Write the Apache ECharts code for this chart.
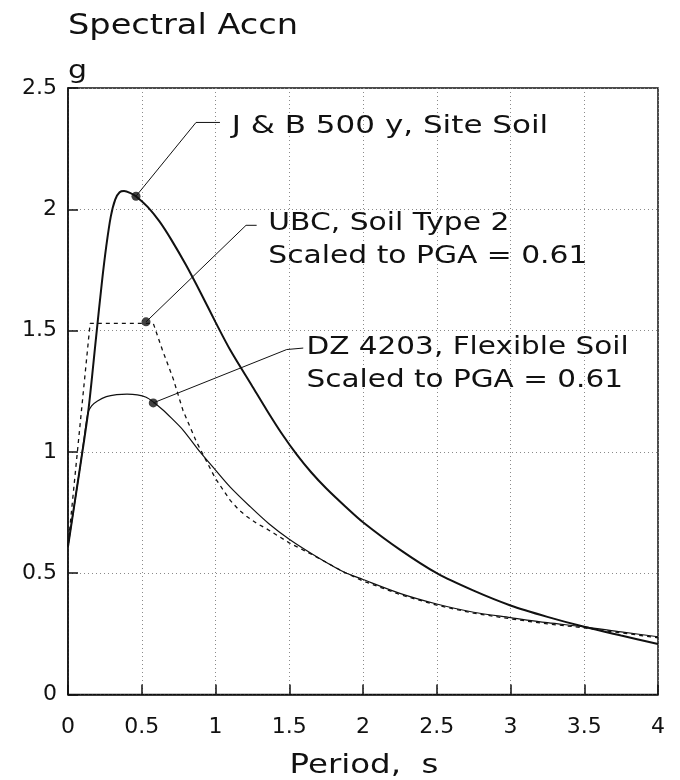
<!DOCTYPE html>
<html><head><meta charset="utf-8">
<script src="https://cdn.jsdelivr.net/npm/echarts@6/dist/echarts.min.js"></script>
<style>html,body{margin:0;padding:0;background:#fff}#c{width:680px;height:780px}</style>
</head><body><div id="c"></div>
<script>
// ---- data ----
const xTickValues = [0, 0.5, 1, 1.5, 2, 2.5, 3, 3.5, 4];
const yTickValues = [0, 0.5, 1, 1.5, 2, 2.5];

const jbPeriod = [0,0.05,0.1,0.14,0.19,0.23,0.26,0.29,0.32,0.35,0.38,0.42,0.46,0.54,0.62,0.7,0.8,0.9,1.0,1.1,1.25,1.35,1.45,1.55,1.65,1.75,1.88,2.0,2.25,2.5,2.75,3.0,3.25,3.5,3.75,4.0];
const jbAccn   = [0.61,0.81,1.01,1.18,1.47,1.70,1.85,1.97,2.04,2.07,2.075,2.068,2.054,2.01,1.95,1.875,1.77,1.655,1.535,1.42,1.27,1.17,1.075,0.99,0.915,0.85,0.775,0.71,0.597,0.50,0.428,0.367,0.32,0.279,0.243,0.208];

const dzPeriod = [0,0.04,0.08,0.11,0.135,0.16,0.2,0.26,0.33,0.4,0.47,0.53,0.58,0.64,0.7,0.78,0.895,1.0,1.1,1.234,1.36,1.5,1.686,1.867,2.0,2.25,2.5,2.75,3.0,3.25,3.5,3.75,4.0];
const dzAccn   = [0.61,0.77,0.93,1.06,1.16,1.19,1.21,1.228,1.236,1.238,1.235,1.225,1.205,1.175,1.14,1.09,1.0,0.925,0.855,0.775,0.705,0.64,0.568,0.506,0.474,0.417,0.373,0.339,0.317,0.296,0.279,0.258,0.238];

const ubcPeriod = [0,0.15,0.578,0.64,0.714,0.78,0.872,1.0,1.1,1.16,1.21,1.28,1.347,1.5,1.66,1.867,2.0,2.25,2.5,2.75,3.0,3.25,3.5,3.75,4.0];
const ubcAccn   = [0.61,1.53,1.53,1.42,1.30,1.17,1.04,0.89,0.80,0.76,0.735,0.705,0.683,0.625,0.575,0.506,0.468,0.412,0.368,0.335,0.312,0.291,0.275,0.254,0.234];

const labelLines = [
  ["J & B 500 y, Site Soil"],
  ["UBC, Soil Type 2", "Scaled to PGA = 0.61"],
  ["DZ 4203, Flexible Soil", "Scaled to PGA = 0.61"]
];
const labelDots = [[0.461, 2.054], [0.529, 1.536], [0.578, 1.202]];
const labelElbows = [[[0.868, 2.358], [1.03, 2.358]], [[1.207, 1.934], [1.279, 1.934]], [[1.483, 1.422], [1.595, 1.428]]];
const labelTextAnchor = [[1.11, 2.34], [1.358, 1.94], [1.617, 1.43]];
const labelStretch = [1.24, 1.19, 1.18];

const yTitle = "Spectral Accn";
const yUnit = "g";
const xTitle = "Period,  s";

// ---- chart ----
const FONT = '"DejaVu Sans", "Liberation Sans", sans-serif';
const INK = '#111';
const pairs = (xs, ys) => xs.map((x, i) => [x, ys[i]]);
const chart = echarts.init(document.getElementById('c'), null, {renderer: 'canvas'});

const axisCommon = {
  type: 'value',
  axisLine: {show: true, onZero: false, lineStyle: {color: INK, width: 1.5}},
  axisTick: {show: true, inside: true, length: 10, lineStyle: {color: INK, width: 1.5}},
  splitLine: {show: true, lineStyle: {color: '#8a8a8a', type: [1, 3], width: 1}},
  axisLabel: {fontFamily: FONT, fontSize: 22, color: INK}
};

const series = [
  {type: 'line', name: 'J&B', data: pairs(jbPeriod, jbAccn), smooth: 0.3, symbol: 'none',
   lineStyle: {color: INK, width: 2}, z: 5},
  {type: 'line', name: 'DZ', data: pairs(dzPeriod, dzAccn), smooth: 0.3, symbol: 'none',
   lineStyle: {color: INK, width: 1.2}, z: 5},
  {type: 'line', name: 'UBC', data: pairs(ubcPeriod, ubcAccn), smooth: false, symbol: 'none',
   lineStyle: {color: INK, width: 1.3, type: [4, 4]}, z: 5},
  {type: 'scatter', data: labelDots, symbolSize: 9, itemStyle: {color: INK}, z: 7}
];
labelDots.forEach((d, i) => {
  series.push({type: 'line', data: [d].concat(labelElbows[i]), symbol: 'none', smooth: false,
    lineStyle: {color: INK, width: 1}, z: 6, silent: true});
});

chart.setOption({
  animation: false,
  backgroundColor: '#fff',
  grid: {left: 68, right: 22, top: 88, bottom: 85.5, show: true, borderColor: INK, borderWidth: 1.5},
  xAxis: Object.assign({}, axisCommon, {
    min: xTickValues[0], max: xTickValues[xTickValues.length - 1], interval: xTickValues[1] - xTickValues[0],
    axisLabel: Object.assign({}, axisCommon.axisLabel, {margin: 22})
  }),
  yAxis: Object.assign({}, axisCommon, {
    min: yTickValues[0], max: yTickValues[yTickValues.length - 1], interval: yTickValues[1] - yTickValues[0],
    axisLabel: Object.assign({}, axisCommon.axisLabel, {margin: 11})
  }),
  series: series
});

const SX = 1.2;
const graphics = [
  {type: 'text', x: 68, y: 27, scaleX: SX,
   style: {text: yTitle, font: '28px ' + FONT, fill: INK, textVerticalAlign: 'middle'}},
  {type: 'text', x: 68, y: 71, scaleX: SX,
   style: {text: yUnit, font: '25px ' + FONT, fill: INK, textVerticalAlign: 'middle'}},
  {type: 'text', x: 364, y: 766, scaleX: SX,
   style: {text: xTitle, font: '27px ' + FONT, fill: INK, textAlign: 'center', textVerticalAlign: 'middle'}}
];
labelLines.forEach((lines, i) => {
  const p = chart.convertToPixel({gridIndex: 0}, labelTextAnchor[i]);
  graphics.push({type: 'text', x: p[0], y: p[1] - 16.5, scaleX: labelStretch[i],
    style: {text: lines.join('\n'), font: '25px ' + FONT, fill: INK, lineHeight: 33, textVerticalAlign: 'top'}});
});
chart.setOption({graphic: graphics});
</script>
</body></html>
